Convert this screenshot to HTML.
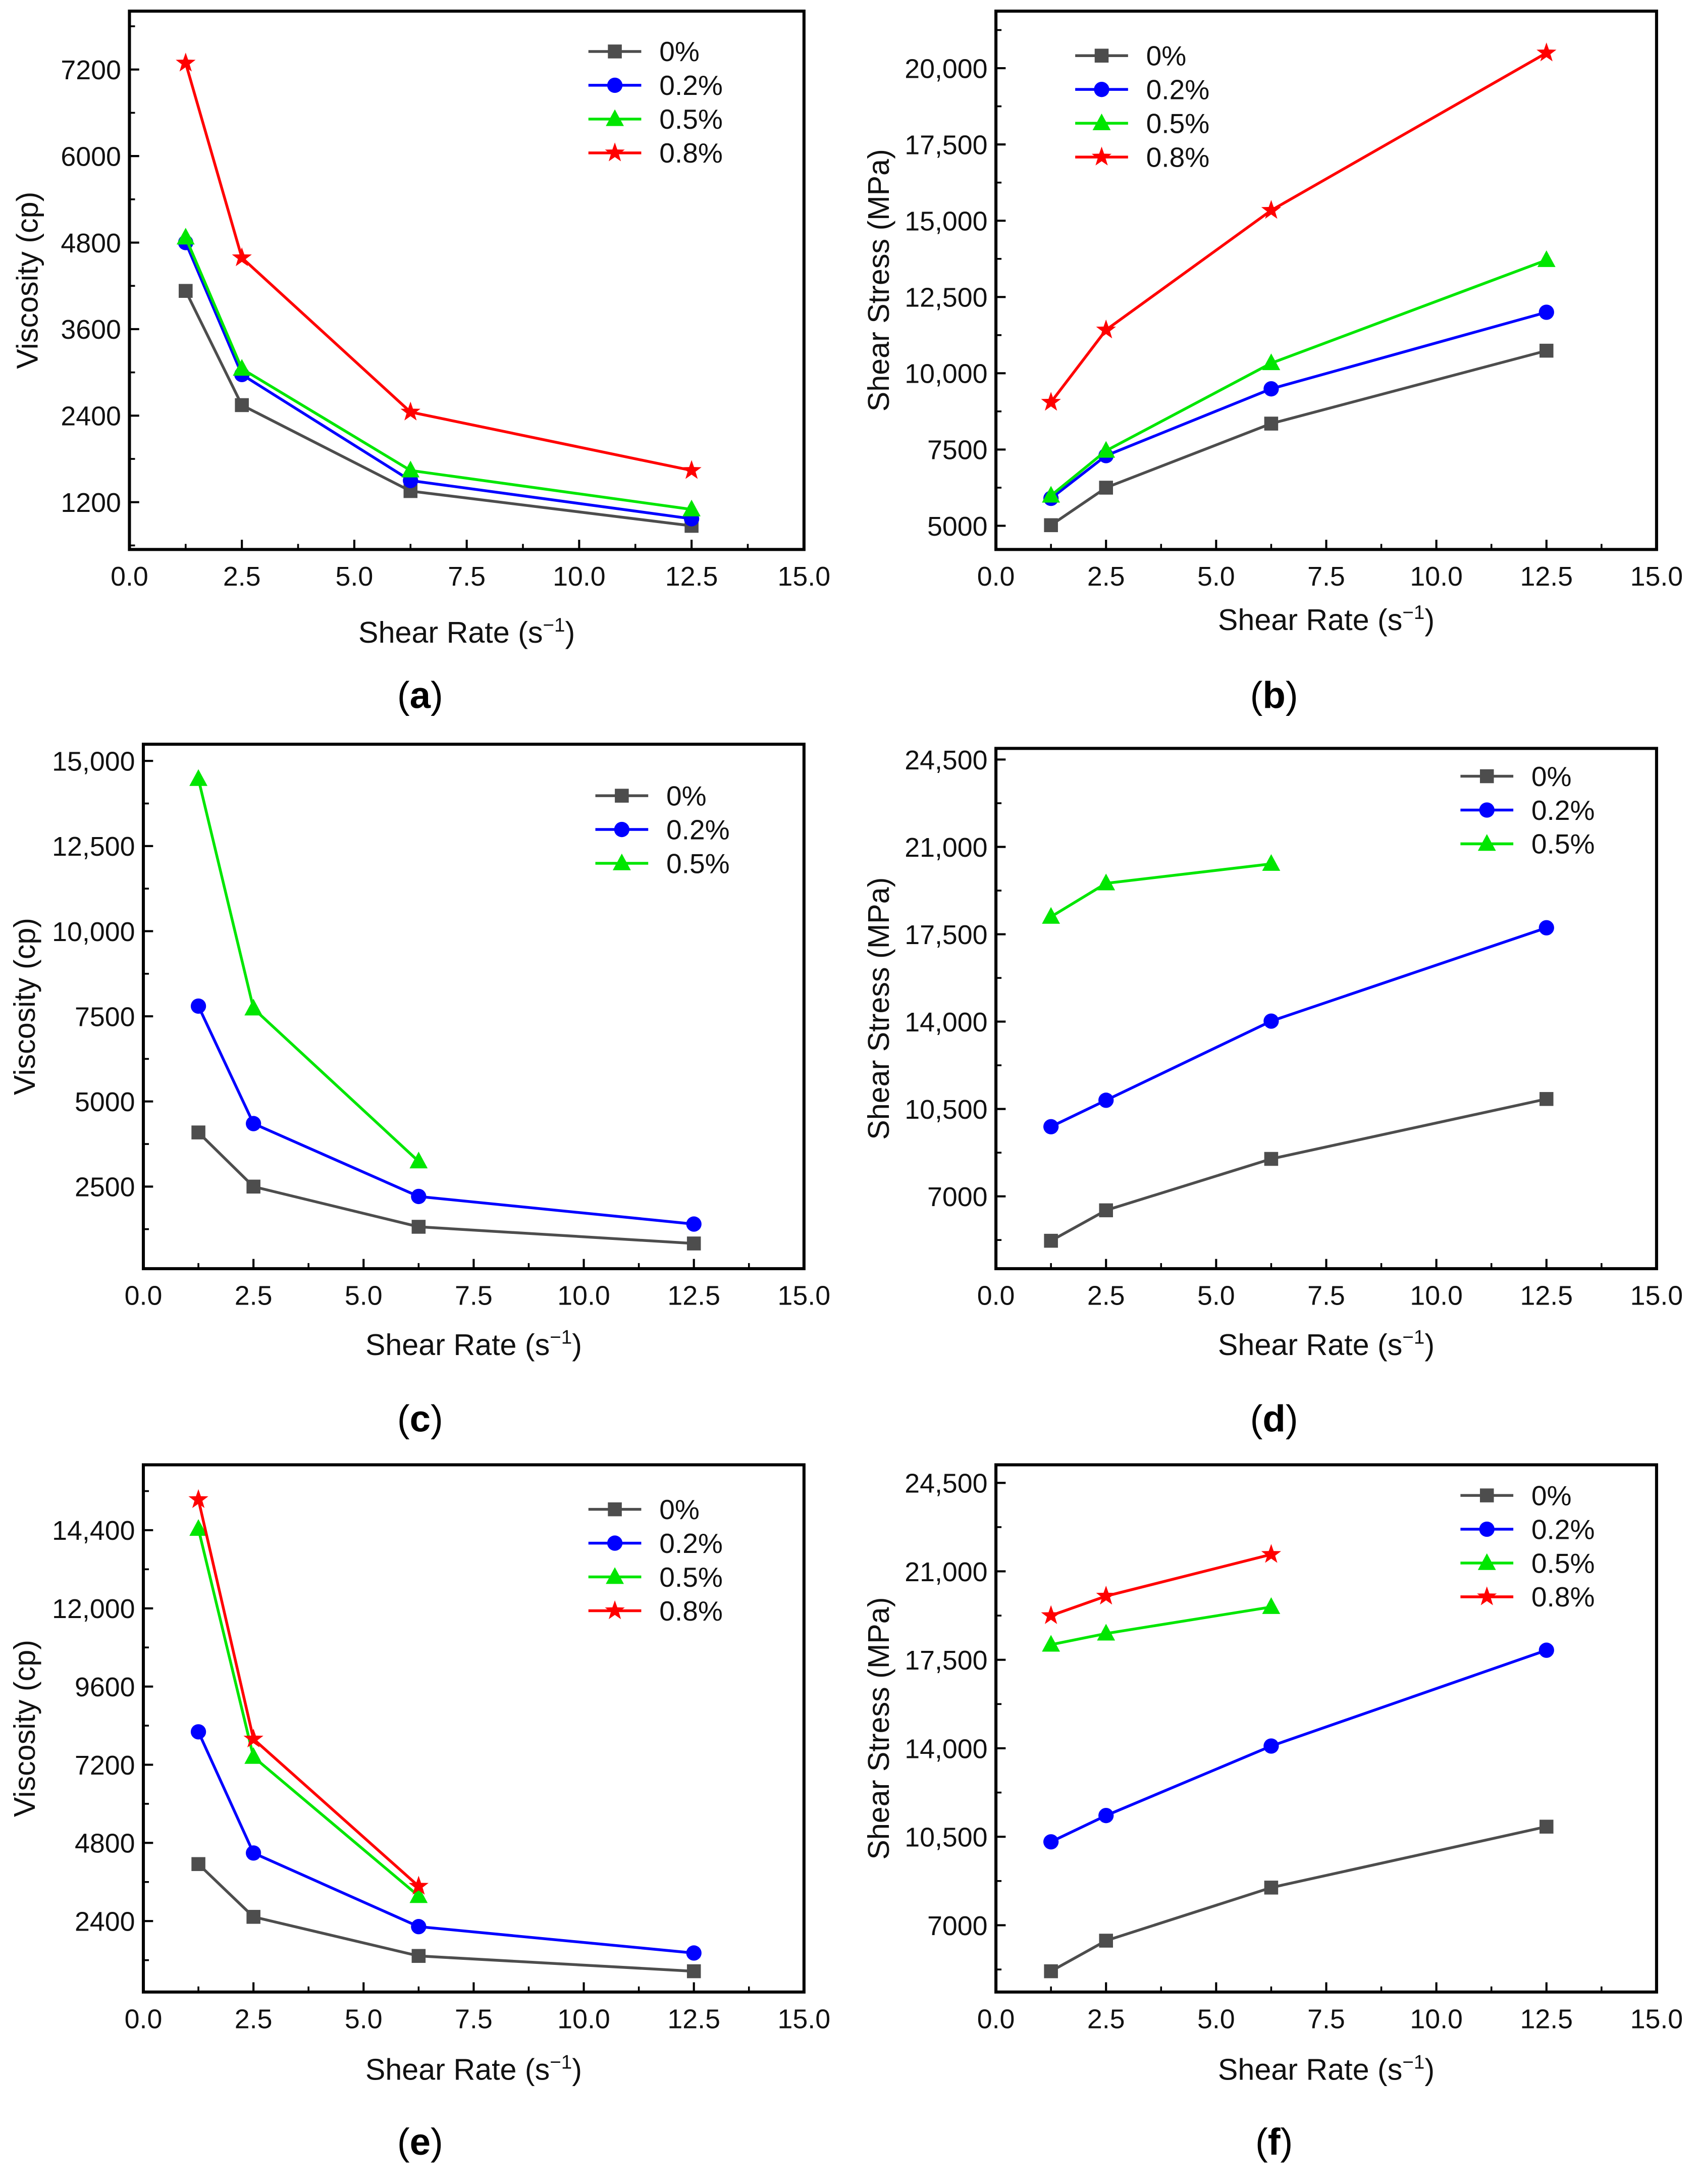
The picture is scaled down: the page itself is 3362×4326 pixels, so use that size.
<!DOCTYPE html>
<html><head><meta charset="utf-8">
<style>
html,body{margin:0;padding:0;background:#fff;}
svg{display:block;}
text{font-family:"Liberation Sans",Arial,sans-serif;}
</style></head>
<body>
<svg id="fig" width="3362" height="4326" viewBox="0 0 1220 1570" xmlns="http://www.w3.org/2000/svg"></svg>
<script>
const xValues = [1.25, 2.5, 6.25, 12.5];
const xTicks = [0, 2.5, 5, 7.5, 10, 12.5, 15];
const xTickLabels = ["0.0","2.5","5.0","7.5","10.0","12.5","15.0"];
const seriesNames = ["0%","0.2%","0.5%","0.8%"];

const aValues0 = [4130, 2546, 1354, 872];
const aValues1 = [4800, 2970, 1500, 970];
const aValues2 = [4870, 3050, 1640, 1100];
const aValues3 = [7290, 4590, 2450, 1640];
const aTicks = [1200, 2400, 3600, 4800, 6000, 7200];
const aTickLabels = ["1200","2400","3600","4800","6000","7200"];

const bValues0 = [5020, 6250, 8350, 10740];
const bValues1 = [5900, 7300, 9490, 12000];
const bValues2 = [5990, 7460, 10330, 13710];
const bValues3 = [9050, 11420, 15340, 20500];
const bTicks = [5000, 7500, 10000, 12500, 15000, 17500, 20000];
const bTickLabels = ["5000","7500","10,000","12,500","15,000","17,500","20,000"];

const cValues0 = [4090, 2500, 1320, 830];
const cValues1 = [7800, 4350, 2210, 1400];
const cValues2 = [14470, 7730, 3240];
const cTicks = [2500, 5000, 7500, 10000, 12500, 15000];
const cTickLabels = ["2500","5000","7500","10,000","12,500","15,000"];

const dValues0 = [5220, 6440, 8500, 10900];
const dValues1 = [9790, 10850, 14020, 17760];
const dValues2 = [18200, 19540, 20320];
const dTicks = [7000, 10500, 14000, 17500, 21000, 24500];
const dTickLabels = ["7000","10,500","14,000","17,500","21,000","24,500"];

const eValues0 = [4150, 2530, 1330, 860];
const eValues1 = [8210, 4490, 2230, 1420];
const eValues2 = [14440, 7440, 3170];
const eValues3 = [15340, 7990, 3470];
const eTicks = [2400, 4800, 7200, 9600, 12000, 14400];
const eTickLabels = ["2400","4800","7200","9600","12,000","14,400"];

const fValues0 = [5180, 6390, 8490, 10900];
const fValues1 = [10300, 11340, 14090, 17880];
const fValues2 = [18100, 18540, 19590];
const fValues3 = [19250, 20020, 21670];
const fTicks = [7000, 10500, 14000, 17500, 21000, 24500];
const fTickLabels = ["7000","10,500","14,000","17,500","21,000","24,500"];

const NS = "http://www.w3.org/2000/svg";
const svg = document.getElementById("fig");
const colors = ["#4d4d4d","#0000ff","#00e600","#ff0000"];
const markers = ["square","circle","triangle","star"];

function mk(tag, attrs, parent){
  const e = document.createElementNS(NS, tag);
  for (const k in attrs) e.setAttribute(k, attrs[k]);
  (parent||svg).appendChild(e);
  return e;
}
function marker(g, type, x, y, c){
  let m;
  if (type==="square") m = mk("rect",{x:x-5,y:y-5,width:10,height:10,fill:c},g);
  else if (type==="circle") m = mk("circle",{cx:x,cy:y,r:5.5,fill:c},g);
  else if (type==="triangle") m = mk("polygon",{points:`${x},${y-7} ${x+6.5},${y+5} ${x-6.5},${y+5}`,fill:c},g);
  else {
    let p=[];
    for(let i=0;i<10;i++){const r=i%2?3:7.5;const a=-Math.PI/2+i*Math.PI/5;p.push((x+r*Math.cos(a)).toFixed(2)+","+(y+r*Math.sin(a)).toFixed(2));}
    m = mk("polygon",{points:p.join(" "),fill:c},g);
  }
  
  
}

function panel(cfg){
  const g = mk("g",{});
  
  
  const L=cfg.box[0], T=cfg.box[1], R=cfg.box[2], B=cfg.box[3];
  const xs = v => L + (v-0)/(15-0)*(R-L);
  const ys = v => B - (v-cfg.ymin)/(cfg.ymax-cfg.ymin)*(B-T);
  xTicks.forEach((t,i)=>{
    const tk = mk("line",{x1:xs(t),x2:xs(t),y1:B,y2:B-7,stroke:"#000","stroke-width":1.5},g);
    
    
    if(i<xTicks.length-1){
      const mt = mk("line",{x1:xs(t+1.25),x2:xs(t+1.25),y1:B,y2:B-4,stroke:"#000","stroke-width":1.3},g);
      
      
    }
    const tl = mk("text",{x:xs(t),y:B+26,"font-size":19.5,"text-anchor":"middle",fill:"#111"},g);
    tl.textContent = xTickLabels[i];
    
    
  });
  const step = cfg.yTicks[1]-cfg.yTicks[0];
  cfg.yTicks.forEach((t,i)=>{
    const tk = mk("line",{x1:L,x2:L+7,y1:ys(t),y2:ys(t),stroke:"#000","stroke-width":1.5},g);
    
    
    const tl = mk("text",{x:L-6,y:ys(t)+7,"font-size":19.5,"text-anchor":"end",fill:"#111"},g);
    tl.textContent = cfg.yTickLabels[i];
    
    
  });
  for(let v=cfg.yTicks[0]-step/2; v<cfg.ymax; v+=step){
    if(v<=cfg.ymin) continue;
    const mt = mk("line",{x1:L,x2:L+4,y1:ys(v),y2:ys(v),stroke:"#000","stroke-width":1.3},g);
    
    
  }
  const frame = mk("rect",{x:L,y:T,width:R-L,height:B-T,fill:"none",stroke:"#000","stroke-width":2.2},g);
  
  
  cfg.series.forEach((vals,si)=>{
    const sg = mk("g",{},g);
    
    
    const pts = vals.map((v,i)=>xs(xValues[i]).toFixed(2)+","+ys(v).toFixed(2)).join(" ");
    const pl = mk("polyline",{points:pts,fill:"none",stroke:colors[si],"stroke-width":2},sg);
    
    
    vals.forEach((v,i)=>marker(sg,markers[si],xs(xValues[i]),ys(v),colors[si]));
  });
  const lg = mk("g",{},g);
  
  
  cfg.series.forEach((v,si)=>{
    const y = cfg.leg[1] + si*24.3;
    const lx = cfg.leg[0];
    const ln = mk("line",{x1:lx,x2:lx+38,y1:y,y2:y,stroke:colors[si],"stroke-width":2},lg);
    
    
    marker(lg,markers[si],lx+19,y,colors[si]);
    const t = mk("text",{x:lx+51,y:y+7,"font-size":20,fill:"#111"},lg);
    t.textContent = seriesNames[si];
    
    
  });
  const cx = (L+R)/2;
  const xt = mk("text",{x:cx,y:cfg.xtY,"font-size":21.5,"text-anchor":"middle",fill:"#111"},g);
  xt.innerHTML = 'Shear Rate (s<tspan dy="-8" font-size="14">−1</tspan><tspan dy="8">)</tspan>';
  
  
  const yt = mk("text",{x:0,y:0,"font-size":21.5,"text-anchor":"middle",fill:"#111",transform:`translate(${cfg.ytX},${(T+B)/2}) rotate(-90)`},g);
  yt.textContent = cfg.ytitle;
  
  
  const pl = mk("text",{x:cfg.lab[0],y:cfg.lab[1],"font-size":27,"text-anchor":"middle",fill:"#000","font-family":"Liberation Serif, serif"},g);
  pl.innerHTML = '(<tspan font-weight="bold">'+cfg.id+'</tspan>)';
  
  
}

panel({id:"a",box:[93,8,578,395],ymin:544,ymax:8010,yTicks:aTicks,yTickLabels:aTickLabels,
  series:[aValues0,aValues1,aValues2,aValues3],leg:[423,37],xtY:462,ytX:27,ytitle:"Viscosity (cp)",lab:[302,509]});
panel({id:"b",box:[716,8,1191,395],ymin:4224,ymax:21870,yTicks:bTicks,yTickLabels:bTickLabels,
  series:[bValues0,bValues1,bValues2,bValues3],leg:[773,40],xtY:453,ytX:639,ytitle:"Shear Stress (MPa)",lab:[916,509]});
panel({id:"c",box:[103,535,578,912],ymin:90,ymax:15490,yTicks:cTicks,yTickLabels:cTickLabels,
  series:[cValues0,cValues1,cValues2],leg:[428,572],xtY:974,ytX:25,ytitle:"Viscosity (cp)",lab:[302,1029]});
panel({id:"d",box:[716,538,1191,912],ymin:4102,ymax:24946,yTicks:dTicks,yTickLabels:dTickLabels,
  series:[dValues0,dValues1,dValues2],leg:[1050,558],xtY:974,ytX:639,ytitle:"Shear Stress (MPa)",lab:[916,1029]});
panel({id:"e",box:[103,1053,578,1432],ymin:222,ymax:16407,yTicks:eTicks,yTickLabels:eTickLabels,
  series:[eValues0,eValues1,eValues2,eValues3],leg:[423,1085],xtY:1495,ytX:25,ytitle:"Viscosity (cp)",lab:[302,1549]});
panel({id:"f",box:[716,1053,1191,1432],ymin:4358,ymax:25215,yTicks:fTicks,yTickLabels:fTickLabels,
  series:[fValues0,fValues1,fValues2,fValues3],leg:[1050,1075],xtY:1495,ytX:639,ytitle:"Shear Stress (MPa)",lab:[916,1549]});
</script>
</body></html>
